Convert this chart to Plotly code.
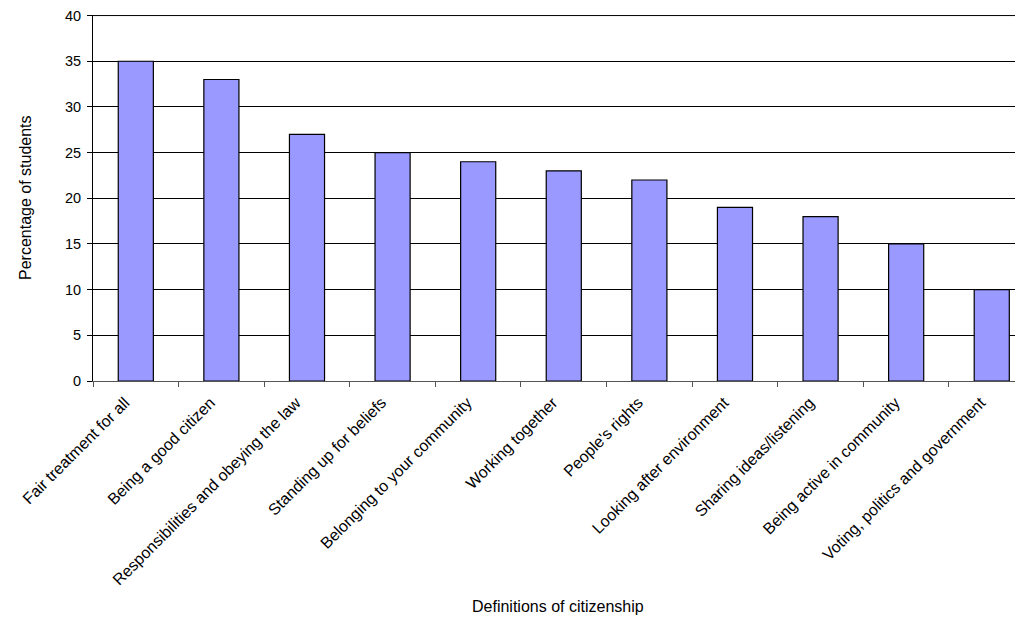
import plotly.graph_objects as go

categories = [
    "Fair treatment for all",
    "Being a good citizen",
    "Responsibilities and obeying the law",
    "Standing up for beliefs",
    "Belonging to your community",
    "Working together",
    "People's rights",
    "Looking after environment",
    "Sharing ideas/listening",
    "Being active in community",
    "Voting, politics and government",
]
percentages = [35, 33, 27, 25, 24, 23, 22, 19, 18, 15, 10]
y_ticks = [0, 5, 10, 15, 20, 25, 30, 35, 40]

fig = go.Figure(go.Bar(
    x=categories, y=percentages,
    marker=dict(color="#9999FF", line=dict(color="#000000", width=1.2)),
    width=0.41,
))

FONT = "Liberation Sans, Arial, sans-serif"
fig.update_layout(
    width=1015, height=610,
    margin=dict(l=85, r=0, t=7, b=237, autoexpand=False),
    paper_bgcolor="white", plot_bgcolor="white",
    font=dict(family=FONT, size=14, color="black"),
    showlegend=False,
    annotations=[
        dict(text="Definitions of citizenship", xref="paper", yref="paper",
             x=0.5, y=0, xanchor="center", yanchor="middle", yshift=-225,
             showarrow=False, font=dict(size=16, family=FONT)),
        dict(text="Percentage of students", xref="paper", yref="paper",
             x=0, y=0.5, xanchor="center", yanchor="middle", xshift=-68,
             textangle=-90, showarrow=False, font=dict(size=16, family=FONT)),
    ],
    shapes=[
        dict(type="line", xref="paper", yref="y", x0=0, x1=1,
             y0=y_ticks[-1], y1=y_ticks[-1],
             line=dict(color="#000000", width=1), layer="above"),
    ],
)
fig.update_xaxes(
    range=[-0.5, 10.365],
    showline=True, linecolor="#555555", linewidth=1.2,
    ticks="outside", tickson="boundaries", ticklen=5, tickcolor="#555555",
    tickangle=-45, tickfont=dict(size=16),
    showgrid=False, automargin=False, ticklabeloverflow="allow",
    ticklabelshift=-11, ticklabelstandoff=5,
)
fig.update_yaxes(
    range=[0, 40.06], tickvals=y_ticks,
    showline=True, linecolor="#000000", linewidth=1,
    ticks="outside", ticklen=5, tickcolor="#000000",
    showgrid=True, gridcolor="#000000", gridwidth=1,
    zeroline=False, tickfont=dict(size=14.5), automargin=False,
    ticklabeloverflow="allow", ticklabelstandoff=3,
)

fig.write_html("out.html")
